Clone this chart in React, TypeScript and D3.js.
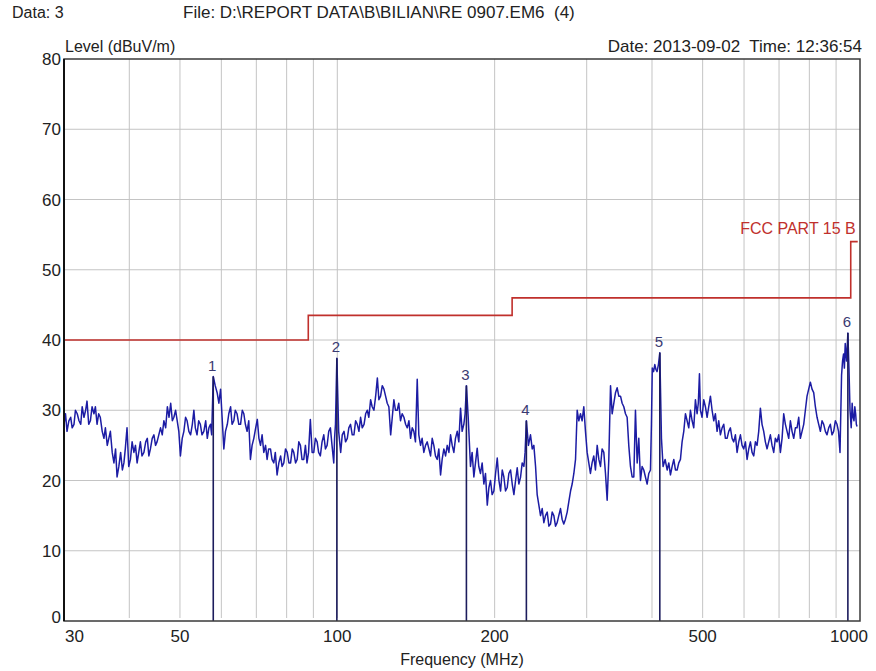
import { useEffect, useRef } from "react"
import * as d3 from "d3"

// measured trace: [frequency MHz, level dBuV/m]
const trace: [number, number][] = [
  [30.0, 28], [30.2, 29.5], [30.4, 27], [30.65, 28.5], [30.9, 29], [31.1, 27.5], [31.35, 28], [31.55, 30],
  [31.8, 29.5], [32.05, 28.5], [32.3, 28], [32.5, 30.5], [32.76, 29], [33.0, 30], [33.2, 31.3], [33.45, 28],
  [33.7, 28.5], [33.95, 30.5], [34.23, 29.5], [34.45, 30.5], [34.7, 28], [34.95, 29.5], [35.2, 29], [35.5, 27],
  [35.77, 26], [36.0, 27.5], [36.3, 25], [36.55, 26], [36.8, 27], [37.1, 24], [37.38, 22.5], [37.65, 24.5],
  [37.9, 20.5], [38.2, 22], [38.5, 24], [38.8, 21.5], [39.06, 22.5], [39.3, 24.5], [39.6, 27.5], [39.9, 22],
  [40.2, 23], [40.5, 25.5], [40.82, 24], [41.1, 25], [41.4, 22.5], [41.7, 24], [42.0, 25.5], [42.3, 23.5],
  [42.66, 24], [43.0, 25.5], [43.3, 26], [43.6, 23.5], [43.9, 24.5], [44.25, 26], [44.58, 26.5], [44.9, 25],
  [45.2, 25.5], [45.55, 26.5], [45.9, 27.5], [46.25, 26.5], [46.58, 28.5], [46.95, 27.5], [47.3, 30.5], [47.65, 29],
  [48.0, 31], [48.35, 28.5], [48.68, 29], [49.05, 30], [49.4, 28.5], [49.75, 27], [50.1, 23.5], [50.5, 26],
  [50.87, 27], [51.25, 29], [51.6, 28.5], [52.0, 27], [52.4, 26.5], [52.8, 28], [53.16, 30], [53.5, 27.5],
  [53.9, 26.5], [54.3, 28.5], [54.7, 28], [55.1, 26.5], [55.55, 27], [56.0, 28.5], [56.4, 26], [56.8, 27.5],
  [57.2, 28], [57.5, 26.5], [57.9, 34.8], [58.4, 33.5], [58.9, 32.5], [59.35, 31], [59.8, 33], [60.2, 29],
  [60.66, 24.5], [61.1, 27], [61.6, 28], [62.0, 29.5], [62.5, 30.5], [62.9, 28], [63.39, 28.5], [63.8, 30],
  [64.3, 29.5], [64.8, 28], [65.3, 28], [65.8, 30], [66.25, 29.5], [66.7, 28], [67.2, 27], [67.7, 28.5],
  [68.2, 23], [68.7, 25], [69.23, 26], [69.8, 27.5], [70.3, 28.7], [70.8, 26], [71.3, 25], [71.8, 26.5],
  [72.34, 24], [72.9, 25], [73.4, 23], [73.9, 24.5], [74.5, 24.5], [75.0, 23], [75.6, 22.5], [76.1, 24],
  [76.7, 20.8], [77.3, 22.5], [77.9, 23.5], [78.4, 22], [79.0, 22.5], [79.6, 24.5], [80.2, 24], [80.8, 22.5],
  [81.4, 22.5], [82.0, 24.5], [82.55, 24], [83.2, 22.5], [83.8, 23], [84.4, 25.5], [85.0, 25], [85.6, 23],
  [86.27, 23], [86.9, 25], [87.5, 22.5], [88.1, 24], [88.8, 28.7], [89.5, 24], [90.15, 24], [90.8, 26],
  [91.5, 25.5], [92.1, 24], [92.8, 23.5], [93.5, 25.5], [94.21, 26.5], [94.9, 24.5], [95.6, 25], [96.3, 27],
  [97.0, 27.5], [97.7, 25], [98.45, 22.5], [98.8, 26], [99.2, 28], [99.8, 37.4], [100.6, 27], [101.5, 24],
  [102.2, 26.5], [103.0, 27], [103.7, 25.5], [104.5, 26], [105.2, 27.5], [106.0, 28], [106.8, 26.5], [107.6, 26.5],
  [108.4, 28.5], [109.2, 28], [110.0, 27], [110.8, 29], [111.6, 27.5], [112.5, 28], [113.3, 29.5], [114.1, 30],
  [114.9, 29], [115.8, 31.5], [116.6, 30.5], [117.5, 30], [118.4, 32], [119.3, 34.6], [120.1, 31.5], [121.0, 32],
  [121.9, 33.5], [122.8, 33], [123.7, 32], [124.6, 31], [125.5, 30.5], [126.5, 26.5], [127.4, 29], [128.3, 31.5],
  [129.2, 30], [130.2, 30], [131.1, 31], [132.1, 28.5], [133.1, 29.5], [134.1, 29], [135.1, 28], [136.1, 27.5],
  [137.1, 28.5], [138.1, 26], [139.1, 27.5], [140.1, 27], [141.1, 25.5], [142.2, 34.4], [143.2, 26.5], [144.3, 25],
  [145.3, 26], [146.4, 24], [147.5, 25], [148.6, 25.5], [149.7, 24.5], [150.8, 23.5], [151.9, 26], [153.0, 25],
  [154.1, 23.5], [155.3, 23], [156.4, 24.5], [157.6, 20.8], [158.7, 23], [159.9, 24.5], [161.1, 23.5], [162.3, 25],
  [163.5, 24], [164.7, 26.5], [165.9, 25], [167.1, 24], [168.3, 26], [169.6, 27], [170.8, 25.5], [172.1, 30.3],
  [173.3, 27], [174.6, 28], [175.6, 29.5], [176.6, 33.5], [178.0, 29], [179.8, 22], [181.1, 24], [182.5, 20.5],
  [183.8, 22.5], [185.2, 24.6], [186.5, 22], [187.9, 21], [189.3, 22.5], [190.7, 19.5], [192.1, 21], [193.6, 16.5],
  [195.0, 19], [196.4, 20], [197.8, 18], [199.3, 18.5], [200.8, 21], [202.3, 23.2], [203.8, 20], [205.3, 18.5],
  [206.8, 21.5], [208.3, 20.5], [209.8, 18.5], [211.4, 19], [212.9, 21], [214.5, 21.5], [216.1, 19.5], [217.7, 18],
  [219.3, 20], [220.9, 21.8], [222.5, 19.5], [224.2, 20.5], [225.8, 22.5], [227.5, 22], [228.7, 24], [230.0, 28.5],
  [232.1, 25], [234.2, 26.5], [236.0, 24.5], [237.7, 25], [239.5, 22], [241.2, 18], [243.0, 16.5], [244.8, 15],
  [246.6, 16], [248.4, 14], [250.2, 15], [252.1, 15.5], [254.0, 13.5], [255.8, 13.8], [257.7, 15.5], [259.6, 15],
  [261.5, 13.5], [263.4, 14], [265.3, 15], [267.3, 16], [269.2, 14.5], [271.2, 13.8], [273.2, 14.5], [275.3, 15.5],
  [277.3, 17], [279.4, 18.5], [281.4, 19.5], [283.5, 21], [285.6, 23], [287.7, 30], [289.8, 28.5], [291.9, 29.5],
  [294.0, 28.5], [296.2, 30.5], [298.4, 27], [300.6, 24], [302.8, 22.5], [305.0, 21], [307.2, 22.5], [309.5, 23.5],
  [311.8, 21.5], [314.2, 25], [316.5, 23], [318.8, 22], [321.1, 24.5], [323.5, 24], [325.9, 21], [328.3, 17.2],
  [330.7, 23], [333.2, 33.5], [335.6, 29.5], [338.1, 31], [340.6, 32.5], [343.1, 33.2], [345.6, 32], [348.2, 32],
  [350.7, 31], [353.3, 30.5], [355.9, 29.5], [358.5, 29], [361.1, 25], [363.8, 22], [366.5, 20.5], [369.2, 20.5],
  [371.9, 30], [374.7, 22.5], [377.4, 26], [380.2, 20], [383.0, 22], [385.8, 21.5], [388.6, 20.5], [391.5, 19.5],
  [394.4, 21], [397.3, 21.5], [399.0, 28], [400.5, 36], [402.8, 35.5], [405.0, 36.5], [407.0, 35.8], [409.0, 35.5],
  [411.5, 36.5], [414.0, 38.2], [417.0, 26], [420.0, 22], [423.8, 23], [427.6, 21.5], [430.7, 22.5], [433.9, 20.8],
  [437.1, 22], [440.3, 23], [443.5, 21.5], [446.8, 21.5], [450.1, 22.5], [453.4, 23], [456.7, 25.5], [460.1, 27],
  [463.5, 29.5], [466.9, 28.5], [470.3, 27.5], [473.8, 30], [477.3, 28.5], [480.8, 27.5], [484.3, 31.5], [487.9, 29.5],
  [490.5, 31], [493.0, 35.2], [495.1, 30], [498.7, 29], [502.4, 31.5], [506.1, 30.5], [509.9, 29], [513.6, 30.5],
  [517.4, 32], [521.2, 30], [525.1, 28.5], [528.9, 29.5], [532.8, 27], [536.7, 28.5], [540.7, 26.5], [544.7, 27.5],
  [548.7, 28], [552.7, 26], [556.8, 26], [560.9, 27], [565.0, 27.5], [569.2, 26], [573.4, 25.5], [577.6, 26.5],
  [581.9, 24], [586.2, 25.5], [590.5, 26.5], [594.8, 25], [599.2, 24.5], [603.6, 25.5], [608.1, 23], [612.6, 24.5],
  [617.1, 25.5], [621.6, 24], [626.2, 23.5], [630.8, 25.5], [635.4, 25], [640.1, 27], [644.8, 30.3], [649.5, 28],
  [654.3, 27], [659.1, 25.5], [664.0, 24.5], [668.9, 25.5], [673.8, 26.5], [678.8, 25], [683.8, 24], [688.8, 26],
  [693.9, 25.5], [699.0, 26.5], [704.2, 24], [709.4, 26], [714.6, 29.5], [719.9, 28], [725.2, 27], [730.5, 26],
  [735.9, 28.5], [741.3, 27], [746.8, 26], [752.3, 27.5], [757.8, 27.5], [763.4, 29], [769.0, 26], [774.7, 27],
  [780.4, 28], [786.1, 30], [791.9, 32], [797.7, 33], [803.6, 34], [809.5, 33], [815.5, 32.5], [821.5, 30.5],
  [827.6, 29], [833.7, 28], [839.8, 27], [846.0, 28.5], [852.2, 28], [858.5, 27], [864.8, 26.5], [871.2, 27.5],
  [877.6, 28], [884.0, 26.5], [890.5, 27], [897.1, 28.5], [903.7, 28], [909.7, 27], [915.7, 24], [922.0, 35],
  [926.0, 37], [930.0, 38], [933.5, 36], [937.0, 39.5], [942.5, 37], [948.0, 41], [952.5, 36], [957.0, 30],
  [962.0, 27.5], [966.0, 31], [970.0, 29], [974.0, 28.5], [977.5, 30.5], [981.0, 29.5], [984.0, 28], [987.0, 27.7],
]

// FCC Part 15 B limit (class B, 3 m)
const limitFreq = [30, 88, 88, 216, 216, 960, 960, 990]
const limitLevel = [40, 40, 43.5, 43.5, 46, 46, 54, 54]

// peak markers
const markerFreq = [57.9, 99.8, 176.6, 230.0, 414.0, 948.0]
const markerLevel = [34.8, 37.4, 33.5, 28.5, 38.2, 41.0]

const yTicks = [0, 10, 20, 30, 40, 50, 60, 70, 80]
const xGrid = [40, 50, 60, 70, 80, 90, 100, 200, 300, 400, 500, 600, 700, 800, 900]
const xLabels = [30, 50, 100, 200, 500, 1000]

const FONT = "'Liberation Sans', Arial, sans-serif"

export default function App() {
  const svgRef = useRef<SVGSVGElement>(null)

  useEffect(() => {
    if (!svgRef.current) return
    const svg = d3.select(svgRef.current)
    svg.selectAll("*").remove()

    const width = 876
    const height = 671
    const plot = { left: 64, right: 860, top: 59, bottom: 621 }

    svg.attr("width", width).attr("height", height)
    svg.append("rect").attr("width", width).attr("height", height).attr("fill", "#fff")

    const x = d3.scaleLog().domain([30, 1000]).range([plot.left, plot.right])
    const y = d3.scaleLinear().domain([0, 80]).range([plot.bottom, plot.top])

    // grid
    svg
      .append("g")
      .selectAll("line")
      .data(yTicks.filter((t) => t > 0 && t < 80))
      .enter()
      .append("line")
      .attr("x1", plot.left)
      .attr("x2", plot.right)
      .attr("y1", (d) => y(d))
      .attr("y2", (d) => y(d))
      .attr("stroke", "#c4c4c4")
      .attr("stroke-width", 1)

    svg
      .append("g")
      .selectAll("line")
      .data(xGrid)
      .enter()
      .append("line")
      .attr("x1", (d) => x(d))
      .attr("x2", (d) => x(d))
      .attr("y1", plot.top)
      .attr("y2", plot.bottom - 3)
      .attr("stroke", "#c4c4c4")
      .attr("stroke-width", 1)

    // limit line
    const limitPts = limitFreq.map((f, i) => [f, limitLevel[i]] as [number, number])
    svg
      .append("path")
      .datum(limitPts)
      .attr("fill", "none")
      .attr("stroke", "#c0302c")
      .attr("stroke-width", 1.6)
      .attr(
        "d",
        d3
          .line<[number, number]>()
          .x((d) => x(d[0]))
          .y((d) => y(d[1])),
      )

    svg
      .append("text")
      .attr("x", x(960) + 5)
      .attr("y", y(54) - 8)
      .attr("text-anchor", "end")
      .attr("font-family", FONT)
      .attr("font-size", 16)
      .attr("fill", "#c0302c")
      .text("FCC PART 15 B")

    // trace
    svg
      .append("path")
      .datum(trace)
      .attr("fill", "none")
      .attr("stroke", "#1c1ca4")
      .attr("stroke-width", 1.5)
      .attr("stroke-linejoin", "round")
      .attr(
        "d",
        d3
          .line<[number, number]>()
          .x((d) => x(d[0]))
          .y((d) => y(d[1])),
      )

    // markers
    const markers = markerFreq.map((f, i) => ({ f, l: markerLevel[i], n: i + 1 }))
    const mg = svg.append("g")
    mg.selectAll("line")
      .data(markers)
      .enter()
      .append("line")
      .attr("x1", (d) => x(d.f))
      .attr("x2", (d) => x(d.f))
      .attr("y1", (d) => y(d.l))
      .attr("y2", plot.bottom)
      .attr("stroke", "#1c1c5c")
      .attr("stroke-width", 1.6)
    mg.selectAll("text")
      .data(markers)
      .enter()
      .append("text")
      .attr("x", (d) => x(d.f) - 1)
      .attr("y", (d) => y(d.l) - 6)
      .attr("text-anchor", "middle")
      .attr("font-family", FONT)
      .attr("font-size", 15)
      .attr("fill", "#3a3a72")
      .text((d) => String(d.n))

    // frame
    svg
      .append("rect")
      .attr("x", plot.left)
      .attr("y", plot.top)
      .attr("width", plot.right - plot.left)
      .attr("height", plot.bottom - plot.top)
      .attr("fill", "none")
      .attr("stroke", "#3a3a3a")
      .attr("stroke-width", 1.5)
    svg
      .append("line")
      .attr("x1", plot.left)
      .attr("x2", plot.left)
      .attr("y1", plot.top)
      .attr("y2", plot.bottom)
      .attr("stroke", "#111")
      .attr("stroke-width", 2)

    // y tick labels
    svg
      .append("g")
      .selectAll("text")
      .data(yTicks)
      .enter()
      .append("text")
      .attr("x", plot.left - 3)
      .attr("y", (d) => y(d) + (d === 0 ? 2 : 6))
      .attr("text-anchor", "end")
      .attr("font-family", FONT)
      .attr("font-size", 17)
      .attr("fill", "#222")
      .text((d) => String(d))

    // x tick labels
    svg
      .append("g")
      .selectAll("text")
      .data(xLabels)
      .enter()
      .append("text")
      .attr("x", (d) => (d === 30 ? x(d) + 1 : d === 1000 ? x(d) - 11 : x(d)))
      .attr("y", plot.bottom + 21)
      .attr("text-anchor", (d) => (d === 30 ? "start" : "middle"))
      .attr("font-family", FONT)
      .attr("font-size", 17)
      .attr("fill", "#222")
      .text((d) => String(d))

    // titles
    const texts = [
      { t: "Data: 3", x: 12, y: 18, a: "start", s: 16 },
      { t: "File: D:\\REPORT DATA\\B\\BILIAN\\RE 0907.EM6  (4)", x: 183, y: 18, a: "start", s: 17 },
      { t: "Level (dBuV/m)", x: 65, y: 52, a: "start", s: 16 },
      { t: "Date: 2013-09-02  Time: 12:36:54", x: 862, y: 52, a: "end", s: 17 },
      { t: "Frequency (MHz)", x: 462, y: 665, a: "middle", s: 16 },
    ]
    svg
      .append("g")
      .selectAll("text")
      .data(texts)
      .enter()
      .append("text")
      .attr("x", (d) => d.x)
      .attr("y", (d) => d.y)
      .attr("text-anchor", (d) => d.a)
      .attr("font-family", FONT)
      .attr("font-size", (d) => d.s)
      .attr("fill", "#222")
      .style("white-space", "pre")
      .text((d) => d.t)
  }, [])

  return (
    <div style={{ position: "absolute", left: 0, top: 0 }}>
      <svg ref={svgRef} style={{ display: "block" }} />
    </div>
  )
}
